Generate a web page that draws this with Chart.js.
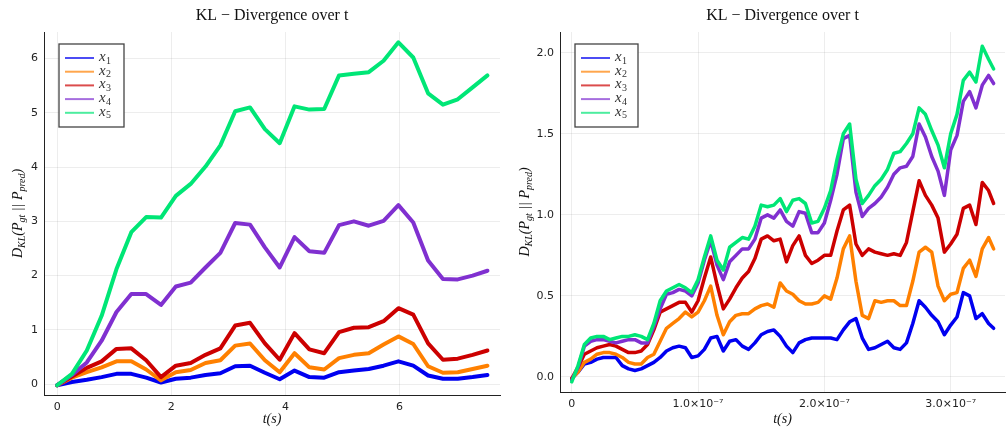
<!DOCTYPE html>
<html>
<head>
<meta charset="utf-8">
<script src="https://cdn.jsdelivr.net/npm/chart.js@4.4.1/dist/chart.umd.min.js"></script>
<style>
  body { margin: 0; background: #fff; }
  #wrap { position: relative; width: 1006px; height: 429px; }
  canvas { position: absolute; top: 0; }
</style>
</head>
<body>
<div id="wrap">
  <canvas id="left" width="503" height="429" style="left:0"></canvas>
  <canvas id="right" width="503" height="429" style="left:503px"></canvas>
</div>
<script>
// ---- left panel, t in seconds ----
const tLeft = [0, 0.26, 0.52, 0.78, 1.04, 1.30, 1.56, 1.82, 2.08, 2.34, 2.60, 2.86, 3.12, 3.38, 3.64,
  3.90, 4.16, 4.42, 4.68, 4.94, 5.20, 5.46, 5.72, 5.98, 6.24, 6.50, 6.76, 7.02, 7.28, 7.54];
const x1Left = [-0.02, 0.04, 0.08, 0.13, 0.19, 0.19, 0.12, 0.03, 0.10, 0.12, 0.17, 0.20, 0.33, 0.34, 0.21,
  0.09, 0.25, 0.13, 0.12, 0.22, 0.25, 0.28, 0.34, 0.42, 0.34, 0.16, 0.10, 0.10, 0.13, 0.17];
const x2Left = [-0.02, 0.12, 0.22, 0.31, 0.42, 0.42, 0.27, 0.07, 0.22, 0.26, 0.39, 0.44, 0.71, 0.75, 0.44,
  0.22, 0.57, 0.31, 0.27, 0.48, 0.54, 0.57, 0.73, 0.88, 0.74, 0.33, 0.21, 0.22, 0.28, 0.34];
const x3Left = [-0.02, 0.14, 0.30, 0.42, 0.65, 0.66, 0.44, 0.13, 0.34, 0.39, 0.54, 0.66, 1.08, 1.13, 0.75,
  0.45, 0.94, 0.64, 0.57, 0.96, 1.04, 1.05, 1.16, 1.40, 1.28, 0.75, 0.45, 0.47, 0.54, 0.62];
const x4Left = [-0.02, 0.17, 0.40, 0.80, 1.33, 1.66, 1.66, 1.46, 1.80, 1.87, 2.15, 2.42, 2.97, 2.94, 2.52,
  2.15, 2.71, 2.45, 2.42, 2.93, 3.00, 2.92, 3.01, 3.30, 2.98, 2.28, 1.94, 1.93, 2.00, 2.09];
const x5Left = [-0.02, 0.19, 0.62, 1.26, 2.12, 2.80, 3.08, 3.07, 3.47, 3.69, 4.01, 4.40, 5.03, 5.10, 4.70,
  4.44, 5.12, 5.06, 5.07, 5.69, 5.72, 5.75, 5.96, 6.30, 6.02, 5.36, 5.15, 5.25, 5.47, 5.69];

// ---- right panel, t in units of 1e-7 s ----
const tRight = [0, 0.05, 0.10, 0.15, 0.20, 0.25, 0.30, 0.35, 0.40, 0.45, 0.50, 0.55, 0.60, 0.65, 0.70,
  0.75, 0.80, 0.85, 0.90, 0.95, 1.00, 1.05, 1.10, 1.15, 1.20, 1.25, 1.30, 1.35, 1.40, 1.45, 1.50, 1.55,
  1.60, 1.65, 1.70, 1.75, 1.80, 1.85, 1.90, 1.95, 2.00, 2.05, 2.10, 2.15, 2.20, 2.25, 2.30, 2.35, 2.40,
  2.45, 2.50, 2.55, 2.60, 2.65, 2.70, 2.75, 2.80, 2.85, 2.90, 2.95, 3.00, 3.05, 3.10, 3.15, 3.20, 3.25,
  3.30, 3.34];
const x1Right = [-0.01, 0.03, 0.08, 0.09, 0.11, 0.12, 0.12, 0.12, 0.07, 0.05, 0.04, 0.05, 0.07, 0.09, 0.12,
  0.16, 0.18, 0.19, 0.18, 0.12, 0.13, 0.17, 0.24, 0.25, 0.16, 0.22, 0.23, 0.19, 0.17, 0.21, 0.26, 0.28,
  0.29, 0.25, 0.19, 0.15, 0.21, 0.23, 0.24, 0.24, 0.24, 0.24, 0.23, 0.29, 0.34, 0.36, 0.24, 0.17, 0.18,
  0.20, 0.22, 0.18, 0.17, 0.21, 0.33, 0.47, 0.43, 0.38, 0.34, 0.26, 0.32, 0.37, 0.52, 0.50, 0.36, 0.39,
  0.33, 0.30];
const x2Right = [-0.01, 0.03, 0.09, 0.11, 0.14, 0.15, 0.15, 0.14, 0.12, 0.09, 0.08, 0.08, 0.12, 0.14, 0.22,
  0.30, 0.33, 0.36, 0.40, 0.37, 0.40, 0.47, 0.56, 0.38, 0.26, 0.34, 0.38, 0.39, 0.39, 0.42, 0.44, 0.45,
  0.43, 0.58, 0.53, 0.51, 0.47, 0.45, 0.45, 0.46, 0.50, 0.48, 0.61, 0.79, 0.87, 0.59, 0.38, 0.36, 0.47,
  0.46, 0.47, 0.47, 0.44, 0.44, 0.59, 0.77, 0.80, 0.77, 0.56, 0.47, 0.51, 0.52, 0.67, 0.72, 0.62, 0.79,
  0.86, 0.79];
const x3Right = [-0.01, 0.06, 0.14, 0.16, 0.18, 0.19, 0.20, 0.19, 0.17, 0.15, 0.15, 0.16, 0.20, 0.29, 0.40,
  0.42, 0.44, 0.46, 0.46, 0.40, 0.47, 0.61, 0.74, 0.57, 0.42, 0.48, 0.55, 0.61, 0.65, 0.73, 0.85, 0.87,
  0.84, 0.85, 0.71, 0.81, 0.87, 0.75, 0.70, 0.72, 0.75, 0.75, 0.90, 1.03, 1.06, 0.82, 0.75, 0.79, 0.77,
  0.76, 0.75, 0.76, 0.75, 0.83, 1.02, 1.21, 1.12, 1.06, 0.98, 0.77, 0.82, 0.88, 1.04, 1.06, 0.94, 1.20,
  1.15, 1.07];
const x4Right = [-0.02, 0.06, 0.19, 0.22, 0.23, 0.23, 0.22, 0.21, 0.22, 0.23, 0.23, 0.21, 0.21, 0.31, 0.42,
  0.51, 0.52, 0.54, 0.53, 0.50, 0.58, 0.72, 0.84, 0.69, 0.60, 0.71, 0.75, 0.79, 0.79, 0.85, 0.98, 1.00,
  0.98, 1.03, 0.96, 0.93, 1.02, 1.01, 0.89, 0.89, 0.95, 1.09, 1.25, 1.47, 1.49, 1.14, 0.99, 1.04, 1.07,
  1.11, 1.17, 1.25, 1.29, 1.30, 1.36, 1.56, 1.48, 1.36, 1.27, 1.12, 1.40, 1.49, 1.70, 1.76, 1.66, 1.80,
  1.86, 1.81];
const x5Right = [-0.03, 0.07, 0.20, 0.24, 0.25, 0.25, 0.23, 0.24, 0.25, 0.25, 0.26, 0.25, 0.23, 0.33, 0.47,
  0.53, 0.55, 0.57, 0.55, 0.52, 0.60, 0.74, 0.87, 0.72, 0.66, 0.80, 0.83, 0.86, 0.85, 0.93, 1.06, 1.05,
  1.06, 1.10, 1.02, 1.09, 1.10, 1.07, 0.95, 0.96, 1.04, 1.15, 1.34, 1.50, 1.56, 1.22, 1.07, 1.12, 1.18,
  1.22, 1.28, 1.38, 1.39, 1.44, 1.50, 1.66, 1.62, 1.52, 1.43, 1.29, 1.50, 1.62, 1.83, 1.88, 1.82, 2.04,
  1.96, 1.90];

const seriesSubs = ["1", "2", "3", "4", "5"];
const seriesColors = ["#0000f0", "#ff8000", "#cc0000", "#8030d0", "#00e676"];

const leftXTicks = [0, 2, 4, 6];
const leftYTicks = [0, 1, 2, 3, 4, 5, 6];
const rightXTicks = [0, 1, 2, 3];
const rightXLabels = ["0", "1.0×10⁻⁷", "2.0×10⁻⁷", "3.0×10⁻⁷"];
const rightYTicks = [0, 0.5, 1, 1.5, 2];
const rightYLabels = ["0.0", "0.5", "1.0", "1.5", "2.0"];

const titleText = "KL − Divergence over t";
const SERIF = '"Liberation Serif", "DejaVu Serif", serif';

// parts: [text, isSubscript]
function drawRich(ctx, parts, x, y) {
  const big = 'italic 14px ' + SERIF, small = 'italic 10px ' + SERIF;
  let w = 0;
  parts.forEach(p => { ctx.font = p[1] ? small : big; w += ctx.measureText(p[0]).width; });
  let cx = x - w / 2;
  ctx.textAlign = 'left';
  ctx.textBaseline = 'alphabetic';
  parts.forEach(p => {
    ctx.font = p[1] ? small : big;
    ctx.fillText(p[0], cx, p[1] ? y + 3 : y);
    cx += ctx.measureText(p[0]).width;
  });
}

const yTitleParts = [["D", 0], ["KL", 1], ["(", 0], ["P", 0], ["gt", 1], [" || ", 0], ["P", 0], ["pred", 1], [")", 0]];
const xTitleParts = [["t", 0], ["(", 0], ["s", 0], [")", 0]];

const decor = {
  id: 'decor',
  afterDraw(chart, args, opts) {
    const { ctx, chartArea: a } = chart;
    ctx.save();
    ctx.fillStyle = '#111';
    ctx.font = '16px ' + SERIF;
    ctx.textAlign = 'center';
    ctx.textBaseline = 'middle';
    ctx.fillText(titleText, (a.left + a.right) / 2, 16);

    drawRich(ctx, xTitleParts, (a.left + a.right) / 2, 423);

    ctx.save();
    ctx.translate(opts.yTitleX, (a.top + a.bottom) / 2);
    ctx.rotate(-Math.PI / 2);
    drawRich(ctx, yTitleParts, 0, 0);
    ctx.restore();

    // legend box
    const bx = a.left + 15, by = a.top + 12, bw = opts.legendWidth, bh = 83;
    ctx.fillStyle = '#fff';
    ctx.fillRect(bx, by, bw, bh);
    ctx.strokeStyle = '#444';
    ctx.lineWidth = 1.3;
    ctx.strokeRect(bx, by, bw, bh);
    seriesColors.forEach((c, i) => {
      const ly = by + 14 + i * 13.7;
      ctx.strokeStyle = c;
      ctx.globalAlpha = 0.7;
      ctx.lineWidth = 2;
      ctx.beginPath();
      ctx.moveTo(bx + 6, ly);
      ctx.lineTo(bx + 35, ly);
      ctx.stroke();
      ctx.globalAlpha = 1;
      ctx.fillStyle = '#333';
      ctx.font = 'italic 15px ' + SERIF;
      ctx.textAlign = 'left';
      ctx.textBaseline = 'middle';
      ctx.fillText("x", bx + 40, ly - 1);
      ctx.font = '10px ' + SERIF;
      ctx.fillText(seriesSubs[i], bx + 47, ly + 3);
    });
    ctx.restore();
  }
};

function makeChart(id, t, series, cfg) {
  const tickFont = { family: '"DejaVu Sans", sans-serif', size: 11 };
  return new Chart(document.getElementById(id), {
    type: 'line',
    data: {
      datasets: series.map((ys, i) => ({
        label: 'x' + seriesSubs[i],
        data: t.map((x, k) => ({ x: x, y: ys[k] })),
        borderColor: seriesColors[i],
        borderWidth: cfg.lineWidth,
        pointRadius: 0,
        tension: 0,
        borderJoinStyle: 'round',
        borderCapStyle: 'round',
        order: series.length - 1 - i
      }))
    },
    options: {
      responsive: false,
      animation: false,
      devicePixelRatio: 1,
      layout: { padding: cfg.padding },
      plugins: {
        legend: { display: false },
        tooltip: { enabled: false },
        decor: cfg.decor
      },
      scales: {
        x: {
          type: 'linear',
          min: cfg.xMin, max: cfg.xMax,
          afterFit: s => { s.height = cfg.xAxisHeight; },
          afterBuildTicks: s => { s.ticks = cfg.xTicks.map(v => ({ value: v })); },
          ticks: { callback: (v, i) => cfg.xLabels[i], font: tickFont, color: '#222', padding: 6, maxRotation: 0, autoSkip: false },
          grid: { color: 'rgba(0,0,0,0.07)', drawTicks: false },
          border: { color: '#222', width: 1 }
        },
        y: {
          min: cfg.yMin, max: cfg.yMax,
          afterFit: s => { s.width = cfg.yAxisWidth; },
          afterBuildTicks: s => { s.ticks = cfg.yTicks.map(v => ({ value: v })); },
          ticks: { callback: (v, i) => cfg.yLabels[i], font: tickFont, color: '#222', padding: 6, autoSkip: false },
          grid: { color: 'rgba(0,0,0,0.07)', drawTicks: false },
          border: { color: '#222', width: 1 }
        }
      }
    },
    plugins: [decor]
  });
}

makeChart('left', tLeft, [x1Left, x2Left, x3Left, x4Left, x5Left], {
  lineWidth: 4,
  padding: { left: 0, right: 3, top: 32, bottom: 0 },
  xAxisHeight: 34, yAxisWidth: 44,
  xMin: -0.23, xMax: 7.76, yMin: -0.2, yMax: 6.49,
  xTicks: leftXTicks, xLabels: leftXTicks.map(String),
  yTicks: leftYTicks, yLabels: leftYTicks.map(String),
  decor: { yTitleX: 22, legendWidth: 65 }
});

makeChart('right', tRight, [x1Right, x2Right, x3Right, x4Right, x5Right], {
  lineWidth: 3.5,
  padding: { left: 0, right: 1, top: 32, bottom: 0 },
  xAxisHeight: 37, yAxisWidth: 57,
  xMin: -0.093, xMax: 3.43, yMin: -0.093, yMax: 2.128,
  xTicks: rightXTicks, xLabels: rightXLabels,
  yTicks: rightYTicks, yLabels: rightYLabels,
  decor: { yTitleX: 26, legendWidth: 63 }
});
</script>
</body>
</html>
